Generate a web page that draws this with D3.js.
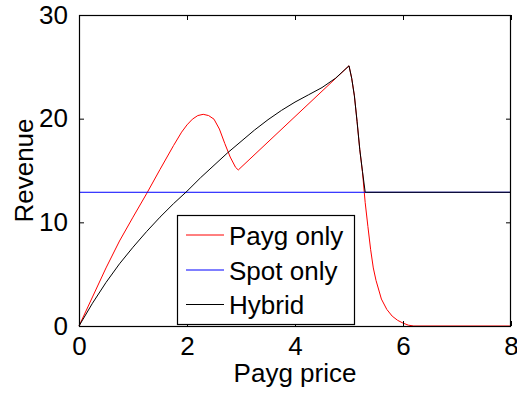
<!DOCTYPE html>
<html>
<head>
<meta charset="utf-8">
<script src="https://cdn.jsdelivr.net/npm/d3@7"></script>
<style>
  html, body { margin: 0; padding: 0; background: #fff; }
  svg { display: block; font-family: "Liberation Sans", Arial, Helvetica, sans-serif; }
</style>
</head>
<body>
<svg id="chart" width="517" height="394"></svg>
<script>
// Payg price grid and revenue curves
const paygX = [0, 0.25, 0.5, 0.75, 1.0, 1.25, 1.5, 1.75, 1.9, 2.0, 2.1, 2.2, 2.3, 2.4, 2.5, 2.6, 2.7, 2.8, 2.9, 2.95, 3.0, 3.5, 4.0, 4.5, 5.0, 5.05, 5.1, 5.15, 5.2, 5.25, 5.3, 5.35, 5.4, 5.45, 5.5, 5.6, 5.7, 5.8, 5.9, 6.0, 6.1, 6.2, 7.0, 8.0];
const paygRevenue = [0, 2.8, 5.6, 8.2, 10.5, 12.75, 15.1, 17.4, 18.7, 19.4, 19.95, 20.3, 20.42, 20.3, 19.95, 19.0, 17.6, 16.3, 15.3, 15.05, 15.3, 17.75, 20.2, 22.65, 25.1, 23.9, 22.2, 19.7, 17.0, 14.8, 11.9, 9.6, 7.4, 5.6, 4.4, 2.6, 1.6, 0.95, 0.55, 0.28, 0.08, 0, 0, 0];

const spotX = [0, 8];
const spotRevenue = [12.9, 12.9];

const hybridX = [0, 0.25, 0.5, 0.75, 1.0, 1.25, 1.5, 1.75, 2.0, 2.25, 2.5, 2.75, 3.0, 3.25, 3.5, 3.75, 4.0, 4.25, 4.5, 4.75, 5.0, 5.05, 5.1, 5.15, 5.2, 5.25, 5.3, 6.0, 7.0, 8.0];
const hybridRevenue = [0, 2.2, 4.2, 6.0, 7.6, 9.1, 10.5, 11.8, 13.0, 14.3, 15.5, 16.7, 17.8, 18.9, 19.9, 20.8, 21.6, 22.3, 23.0, 23.9, 25.1, 23.9, 22.2, 19.7, 17.0, 14.9, 12.9, 12.9, 12.9, 12.9];

const xTicks = [0, 2, 4, 6, 8];
const yTicks = [0, 10, 20, 30];

const seriesNames = ["Payg only", "Spot only", "Hybrid"];
const seriesColors = ["#ff0000", "#0000ff", "#000000"];

const svg = d3.select("#chart");
const plotLeft = 79, plotRight = 511, plotTop = 15, plotBottom = 326;

const x = d3.scaleLinear().domain([0, 8]).range([plotLeft, plotRight]);
const y = d3.scaleLinear().domain([0, 30]).range([plotBottom, plotTop]);

const series = [
  { name: seriesNames[0], color: seriesColors[0], pts: paygX.map((v, i) => [v, paygRevenue[i]]) },
  { name: seriesNames[1], color: seriesColors[1], pts: spotX.map((v, i) => [v, spotRevenue[i]]) },
  { name: seriesNames[2], color: seriesColors[2], pts: hybridX.map((v, i) => [v, hybridRevenue[i]]) }
];

const line = d3.line().x(d => x(d[0])).y(d => y(d[1]));

// curves
svg.append("g").selectAll("path").data(series).join("path")
  .attr("d", d => line(d.pts))
  .attr("fill", "none")
  .attr("stroke", d => d.color)
  .attr("stroke-width", 1);

// axes box with inward ticks on all four sides
const tickLen = 5;
const fontSize = 26;

const bottomAxis = d3.axisBottom(x).tickValues(xTicks).tickSizeInner(-tickLen).tickSizeOuter(0).tickPadding(11);
const topAxis = d3.axisTop(x).tickValues(xTicks).tickSizeInner(-tickLen).tickSizeOuter(0).tickFormat("");
const leftAxis = d3.axisLeft(y).tickValues(yTicks).tickSizeInner(-tickLen).tickSizeOuter(0).tickPadding(11);
const rightAxis = d3.axisRight(y).tickValues(yTicks).tickSizeInner(-tickLen).tickSizeOuter(0).tickFormat("");

function styleAxis(g) {
  g.select(".domain").remove();
  g.selectAll(".tick line").attr("stroke", "#000").attr("stroke-width", 1);
  g.selectAll(".tick text").attr("fill", "#000").style("font-size", fontSize + "px")
    .style("font-family", "'Liberation Sans', Arial, sans-serif");
}

svg.append("g").attr("transform", `translate(0,${plotBottom})`).call(bottomAxis).call(styleAxis);
svg.append("g").attr("transform", `translate(0,${plotTop})`).call(topAxis).call(styleAxis);
svg.append("g").attr("transform", `translate(${plotLeft},0)`).call(leftAxis).call(styleAxis);
svg.append("g").attr("transform", `translate(${plotRight},0)`).call(rightAxis).call(styleAxis);

svg.append("rect")
  .attr("x", plotLeft + 0.5).attr("y", plotTop + 0.5)
  .attr("width", plotRight - plotLeft - 1).attr("height", plotBottom - plotTop)
  .attr("fill", "none").attr("stroke", "#000").attr("stroke-width", 1.2);

// axis labels
svg.append("text")
  .attr("x", (plotLeft + plotRight) / 2).attr("y", 382)
  .attr("text-anchor", "middle")
  .style("font-size", fontSize + "px")
  .text("Payg price");

svg.append("text")
  .attr("transform", `translate(33,${(plotTop + plotBottom) / 2}) rotate(-90)`)
  .attr("text-anchor", "middle")
  .style("font-size", fontSize + "px")
  .text("Revenue");

// legend
const legend = svg.append("g");
legend.append("rect")
  .attr("x", 177.5).attr("y", 215.5).attr("width", 177).attr("height", 109)
  .attr("fill", "#fff").attr("stroke", "#000").attr("stroke-width", 1.2);

const rowY = [235, 270, 304.5];
series.forEach((s, i) => {
  legend.append("line")
    .attr("x1", 186).attr("x2", 224)
    .attr("y1", rowY[i]).attr("y2", rowY[i])
    .attr("stroke", s.color).attr("stroke-width", 1);
  legend.append("text")
    .attr("x", 229).attr("y", rowY[i] + 9.5)
    .style("font-size", fontSize + "px")
    .text(s.name);
});
</script>
</body>
</html>
